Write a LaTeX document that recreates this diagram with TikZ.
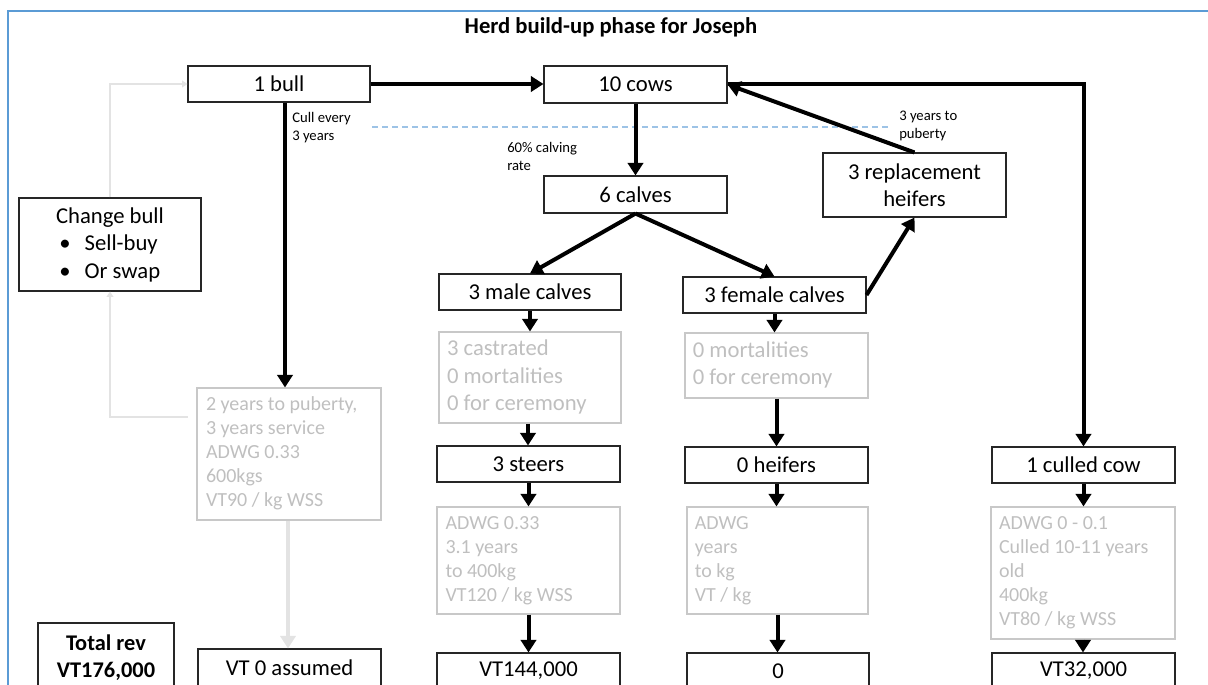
\documentclass[tikz,border=0pt]{standalone}
\usepackage{fontspec}
\setmainfont{Carlito}
\usetikzlibrary{arrows.meta}
\definecolor{frameblue}{HTML}{5B9BD5}
\definecolor{dashblue}{HTML}{9DC3E6}
\definecolor{infotext}{HTML}{BFBFBF}
\definecolor{infoline}{HTML}{C8C8C8}
\definecolor{lightarr}{HTML}{E3E3E3}
\newcommand\mainsz{\fontsize{17}{20.6}\selectfont}
\newcommand\smallsz{\fontsize{11}{13.5}\selectfont}
\newcommand\ilines[2]{\makebox[#1][l]{\begin{tabular}{@{}l@{}}#2\end{tabular}}}
\begin{document}
\begin{tikzpicture}[x=0.75pt,y=-0.75pt,
  wh/.style 2 args={minimum width=#1*0.75pt, minimum height=#2*0.75pt},
  box/.style={draw=black!85, line width=0.8pt, inner sep=0pt, font=\mainsz},
  info/.style={draw=infoline, line width=0.8pt, inner sep=0pt, text=infotext},
  infobig/.style={info, font=\fontsize{17}{20.8}\selectfont},
  infosmall/.style={info, font=\fontsize{15}{18}\selectfont},
  small/.style={inner sep=0pt, anchor=west, align=left, font=\smallsz},
  arr/.style={line width=3pt, -{Triangle[width=11.5pt,length=9.5pt]}},
  greyarr/.style={line width=3pt, draw=lightarr, -{Triangle[width=11.5pt,length=9.5pt]}},
  greyline/.style={line width=1.6pt, draw=lightarr, -{Triangle[width=5pt,length=4pt]}}
]
\useasboundingbox (0,0) rectangle (1208,685);
\clip (0,0) rectangle (1208,685);
\draw[frameblue, line width=1.5pt] (8,700) -- (8,11) -- (1220,11);

\node[font=\bfseries\fontsize{17}{20}\selectfont] (title) at (611,27.5) {Herd build-up phase for Joseph};

% main boxes
\node[box, wh={182}{36}] (bull) at (279,84) {1 bull};
\node[box, wh={183}{37}] (cows) at (635.5,84.5) {10 cows};
\node[box, wh={183}{37}] (calves) at (635.5,194.5) {6 calves};
\node[box, wh={182}{36}] (male) at (530,292) {3 male calves};
\node[box, wh={183}{36}] (female) at (774.5,295) {3 female calves};
\node[box, wh={183}{64}, align=center] (repl) at (914.5,185) {3 replacement\\heifers};
\node[box, wh={182}{93}, align=center] (change) at (110,244.5)
  {Change bull\\\makebox[76pt][l]{\makebox[19pt][l]{•}Sell-buy}\\\makebox[76pt][l]{\makebox[19pt][l]{•}Or swap}};
\node[box, wh={183}{36}] (steers) at (528.5,464) {3 steers};
\node[box, wh={183}{36}] (heifers) at (776.5,465) {0 heifers};
\node[box, wh={183}{36}] (culled) at (1083.5,465) {1 culled cow};

% info boxes
\node[infosmall, wh={184}{132}] (bullinfo) at (289,454)
  {\ilines{124.5pt}{2 years to puberty,\\3 years service\\ADWG 0.33\\600kgs\\VT90 / kg WSS}};
\node[infobig, wh={182}{91}] (maleinfo) at (530,377.5)
  {\ilines{124.5pt}{3 castrated\\0 mortalities\\0 for ceremony}};
\node[infobig, wh={183}{65}] (femaleinfo) at (776.5,365.5)
  {\ilines{125.5pt}{0 mortalities\\0 for ceremony}};
\node[infosmall, wh={183}{107}] (steerinfo) at (528.5,560.5)
  {\ilines{124.5pt}{ADWG 0.33\\3.1 years\\to 400kg\\VT120 / kg WSS}};
\node[infosmall, wh={181}{107}] (heiferinfo) at (777.5,560.5)
  {\ilines{124pt}{ADWG\\years\\to kg\\VT / kg}};
\node[infosmall, wh={184}{132}] (culledinfo) at (1083,573)
  {\ilines{126pt}{ADWG 0 - 0.1\\Culled 10-11 years\\old\\400kg\\VT80 / kg WSS}};

% bottom boxes
\node[box, wh={136}{70}, align=center, font=\bfseries\fontsize{16.8}{20.25}\selectfont] (total) at (106,658) {Total rev\\VT176,000};
\node[box, wh={183}{38}] (vt0) at (289.5,668) {VT 0 assumed};
\node[box, wh={183}{36}] (vt144) at (528.5,671) {VT144,000};
\node[box, wh={182}{36}] (zero) at (778,671) {0};
\node[box, wh={183}{36}] (vt32) at (1083.5,671) {VT32,000};

% labels
\node[small] (lcull) at (292,128) {Cull every\\3 years};
\node[small] (lcalv) at (507,156) {60\% calving\\rate};
\node[small] (lpub) at (899,126) {3 years to\\puberty};

% dashed line
\coordinate (d1) at (372,127);
\coordinate (d2) at (888,127);
\draw[dashblue, line width=0.9pt, dash pattern=on 4.5pt off 3pt] (d1) -- (d2);

% connectors
\draw[arr] (bull.east) -- (bull.east -| cows.west);
\draw[arr] (cows.east) -| (culled.north);
\draw[arr] ([xshift=4.5pt]bull.south) -- ([xshift=4.5pt]bull.south |- bullinfo.north);
\draw[greyarr] ([xshift=-0.75pt]bullinfo.south) -- ([xshift=-0.75pt]bullinfo.south |- vt0.north);
\coordinate (g1) at (188,417);
\draw[greyline] (g1) -| (change.south);
\draw[greyline] (change.north) |- (bull.west);
\draw[arr] (cows.south) -- (calves.north);
\draw[arr] (calves.south) -- (male.north);
\draw[arr] (calves.south) -- (female.north);
\draw[arr] (female.east) -- (repl.south);
\draw[arr] (repl.north) -- (cows.east);
\draw[arr] (male.south) -- (male.south |- maleinfo.north);
\draw[arr] ([xshift=-1.5pt]maleinfo.south) -- ([xshift=-1.5pt]maleinfo.south |- steers.north);
\draw[arr] (steers.south) -- (steers.south |- steerinfo.north);
\draw[arr] (steerinfo.south) -- (steerinfo.south |- vt144.north);
\draw[arr] (female.south) -- (female.south |- femaleinfo.north);
\draw[arr] (femaleinfo.south) -- (femaleinfo.south |- heifers.north);
\draw[arr] (heifers.south) -- (heifers.south |- heiferinfo.north);
\draw[arr] (heiferinfo.south) -- (heiferinfo.south |- zero.north);
\draw[arr] (culled.south) -- (culled.south |- culledinfo.north);
\draw[arr] (culledinfo.south) -- (culledinfo.south |- vt32.north);
\end{tikzpicture}
\end{document}
